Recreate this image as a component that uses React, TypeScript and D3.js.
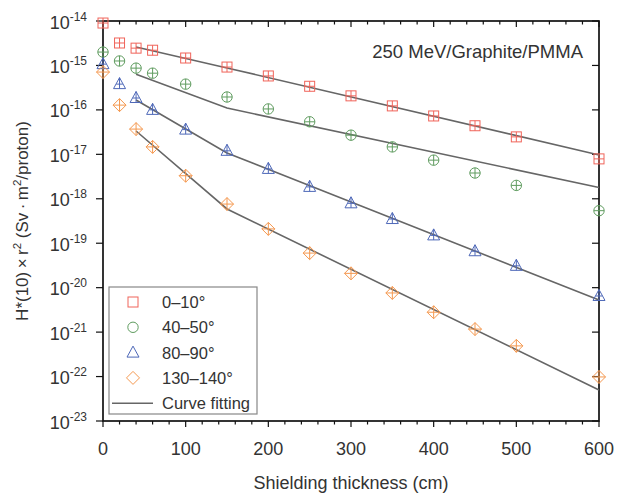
import React, { useEffect, useRef } from 'react';
import * as d3 from 'd3';

// shielding thickness (cm) of the data points
const thickness = [0, 20, 40, 60, 100, 150, 200, 250, 300, 350, 400, 450, 500, 600];

// H*(10) x r^2 values per angular bin
const deg0to10 = [9.0e-15, 3.2e-15, 2.45e-15, 2.2e-15, 1.47e-15, 9.2e-16, 5.8e-16, 3.4e-16, 2.07e-16, 1.23e-16, 7.3e-17, 4.4e-17, 2.47e-17, 7.9e-18];
const deg40to50 = [2.0e-15, 1.26e-15, 8.7e-16, 6.7e-16, 3.8e-16, 1.95e-16, 1.05e-16, 5.4e-17, 2.7e-17, 1.47e-17, 7.4e-18, 3.8e-18, 2.0e-18, 5.4e-19];
const deg80to90 = [1.07e-15, 3.8e-16, 1.85e-16, 1.0e-16, 3.6e-17, 1.2e-17, 4.7e-18, 1.85e-18, 7.9e-19, 3.5e-19, 1.5e-19, 6.6e-20, 3.1e-20, 6.5e-21];
const deg130to140 = [7.1e-16, 1.28e-16, 3.7e-17, 1.47e-17, 3.3e-18, 7.6e-19, 2.1e-19, 6.0e-20, 2.1e-20, 7.6e-21, 2.8e-21, 1.17e-21, 4.9e-22, 9.8e-23];

// curve fitting, knots at these thicknesses
const fitThickness = [40, 150, 600];
const fit0to10 = [2.6e-15, 8.8e-16, 9.7e-18];
const fit40to50 = [6.3e-16, 1.1e-16, 1.79e-18];
const fit80to90 = [1.67e-16, 1.07e-17, 5.28e-21];
const fit130to140 = [3.35e-17, 5.9e-19, 4.98e-23];

const seriesLabels = ['0\u201310\u00b0', '40\u201350\u00b0', '80\u201390\u00b0', '130\u2013140\u00b0'];
const seriesShapes = ['square', 'circle', 'triangle', 'diamond'];
const seriesColors = ['#f0645a', '#5f9c5f', '#4e68b8', '#f5984f'];
const seriesValues = [deg0to10, deg40to50, deg80to90, deg130to140];
const fitValues = [fit0to10, fit40to50, fit80to90, fit130to140];

const yExponents = d3.range(-14, -24, -1);

const FONT = '"Liberation Sans", Arial, Helvetica, sans-serif';

const drawMarker = (g, shape, x, y, color, cross) => {
  const m = g.append('g').attr('transform', `translate(${x},${y})`)
    .attr('fill', 'none').attr('stroke', color).attr('stroke-width', 1);
  if (shape === 'square') {
    m.append('rect').attr('x', -5).attr('y', -5).attr('width', 10).attr('height', 10);
    if (cross) {
      m.append('path').attr('d', 'M-5,0H5M0,-5V5');
    }
  } else if (shape === 'circle') {
    m.append('circle').attr('r', 5.2);
    if (cross) m.append('path').attr('d', 'M-5.2,0H5.2M0,-5.2V5.2');
  } else if (shape === 'triangle') {
    m.append('path').attr('d', 'M0,-6.5L6,4.5L-6,4.5Z');
    if (cross) m.append('path').attr('d', 'M0,-6.5V4.5M-3.3,0H3.3');
  } else {
    m.append('path').attr('d', 'M0,-6.5L6.5,0L0,6.5L-6.5,0Z');
    if (cross) m.append('path').attr('d', 'M-6.5,0H6.5M0,-6.5V6.5');
  }
};

const App = () => {
  const svgRef = useRef(null);
  const width = 617;
  const height = 495;

  useEffect(() => {
    const svg = d3.select(svgRef.current);
    svg.selectAll('*').remove();

    const left = 103, right = 599, top = 21, bottom = 421;

    const x = d3.scaleLinear().domain([0, 600]).range([left, right]);
    const y = d3.scaleLog().domain([1e-23, 1e-14]).range([bottom, top]);

    const g = svg.append('g').style('font-family', FONT);

    // ticks
    const ticks = g.append('g').attr('stroke', '#111').attr('stroke-width', 1.2);
    d3.range(0, 601, 20).forEach((v) => {
      const len = v % 100 === 0 ? 6 : 3.5;
      ticks.append('line').attr('x1', x(v)).attr('x2', x(v)).attr('y1', bottom).attr('y2', bottom + len);
      ticks.append('line').attr('x1', x(v)).attr('x2', x(v)).attr('y1', top).attr('y2', top + len);
    });
    yExponents.forEach((e) => {
      ticks.append('line').attr('x1', left - 7).attr('x2', left).attr('y1', y(10 ** e)).attr('y2', y(10 ** e));
      ticks.append('line').attr('x1', right - 7).attr('x2', right).attr('y1', y(10 ** e)).attr('y2', y(10 ** e));
      if (e > -14) {
        d3.range(2, 10).forEach((k) => {
          const v = k * 10 ** e;
          ticks.append('line').attr('x1', left - 3.5).attr('x2', left).attr('y1', y(v)).attr('y2', y(v));
          ticks.append('line').attr('x1', right - 3.5).attr('x2', right).attr('y1', y(v)).attr('y2', y(v));
        });
      }
    });

    // frame
    g.append('rect')
      .attr('x', left).attr('y', top)
      .attr('width', right - left).attr('height', bottom - top)
      .attr('fill', 'none').attr('stroke', '#111').attr('stroke-width', 1.7);

    // tick labels
    d3.range(0, 601, 100).forEach((v) => {
      g.append('text').attr('x', x(v)).attr('y', 455)
        .attr('text-anchor', 'middle').attr('font-size', 18).attr('fill', '#333')
        .text(v);
    });
    yExponents.forEach((e) => {
      const t = g.append('text').attr('x', 87).attr('y', y(10 ** e) + 7.5)
        .attr('text-anchor', 'end').attr('font-size', 18).attr('fill', '#333');
      t.append('tspan').text('10');
      t.append('tspan').attr('font-size', 12).attr('dy', -8).text(String(e));
    });

    // fitted curves
    const line = d3.line().x((d) => x(d[0])).y((d) => y(d[1]));
    fitValues.forEach((vals) => {
      g.append('path')
        .datum(fitThickness.map((t, i) => [t, vals[i]]))
        .attr('d', line)
        .attr('fill', 'none').attr('stroke', '#666').attr('stroke-width', 1.6);
    });

    // data points
    seriesValues.forEach((vals, s) => {
      vals.forEach((v, i) => {
        drawMarker(g, seriesShapes[s], x(thickness[i]), y(v), seriesColors[s], true);
      });
    });

    // annotation
    g.append('text').attr('x', 583).attr('y', 58)
      .attr('text-anchor', 'end').attr('font-size', 18.5).attr('fill', '#333')
      .text('250 MeV/Graphite/PMMA');

    // legend
    const lg = g.append('g');
    lg.append('rect').attr('x', 109).attr('y', 287).attr('width', 148).attr('height', 127)
      .attr('fill', '#fff').attr('stroke', '#888').attr('stroke-width', 1.2);
    seriesLabels.forEach((lab, s) => {
      const cy = 302 + s * 25.3;
      drawMarker(lg, seriesShapes[s], 133, cy, seriesColors[s], false);
      lg.append('text').attr('x', 162).attr('y', cy + 6)
        .attr('font-size', 16.5).attr('fill', '#333').text(lab);
    });
    const fy = 302 + 4 * 25.3;
    lg.append('line').attr('x1', 112).attr('x2', 153).attr('y1', fy).attr('y2', fy)
      .attr('stroke', '#666').attr('stroke-width', 1.6);
    lg.append('text').attr('x', 162).attr('y', fy + 6)
      .attr('font-size', 16.5).attr('fill', '#333').text('Curve fitting');

    // axis titles
    g.append('text').attr('x', (left + right) / 2).attr('y', 489)
      .attr('text-anchor', 'middle').attr('font-size', 18).attr('fill', '#333')
      .text('Shielding thickness (cm)');

    const yt = g.append('text')
      .attr('transform', `translate(28,${(top + bottom) / 2}) rotate(-90)`)
      .attr('text-anchor', 'middle').attr('font-size', 17).attr('fill', '#333');
    yt.append('tspan').text('H*(10)\u2009\u00d7\u2009r');
    yt.append('tspan').attr('font-size', 11.5).attr('dy', -7).text('2');
    yt.append('tspan').attr('dy', 7).text(' (Sv\u2009\u00b7\u2009m');
    yt.append('tspan').attr('font-size', 11.5).attr('dy', -7).text('2');
    yt.append('tspan').attr('dy', 7).text('/proton)');
  }, []);

  return (
    <svg
      ref={svgRef}
      width={width}
      height={height}
      style={{ position: 'absolute', left: 0, top: 0, background: '#fff' }}
    />
  );
};

export default App;
